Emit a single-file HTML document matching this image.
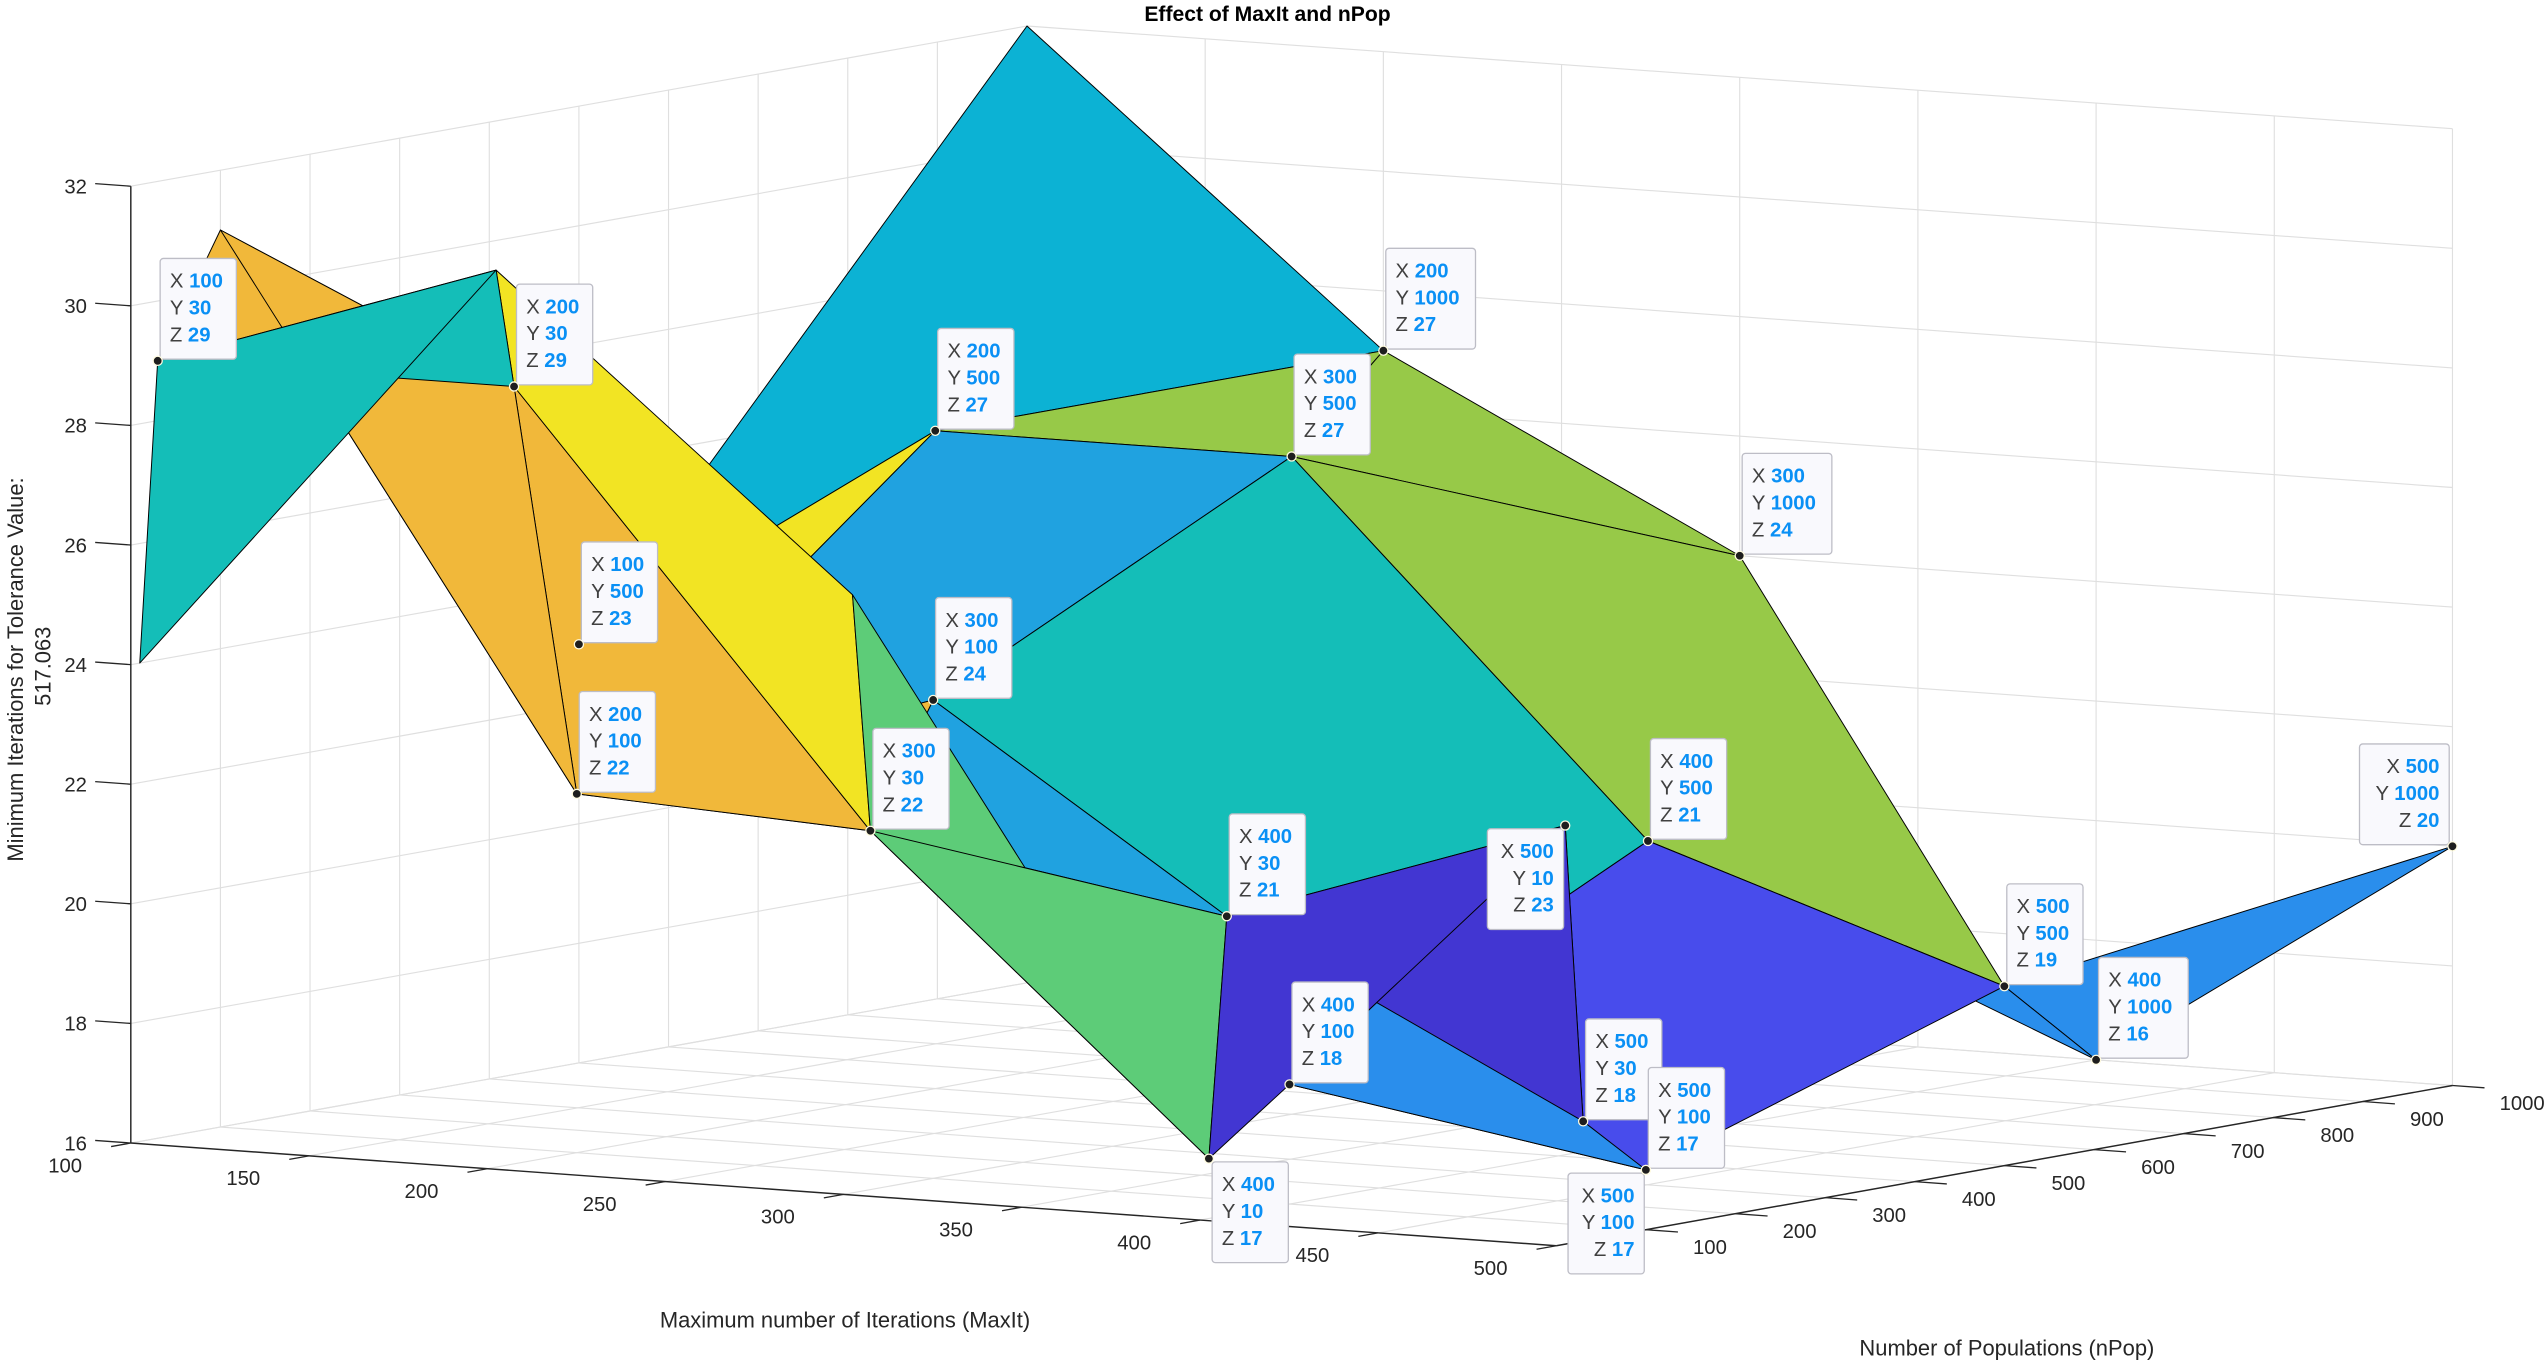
<!DOCTYPE html>
<html><head><meta charset="utf-8"><title>Effect of MaxIt and nPop</title>
<style>
html,body{margin:0;padding:0;background:#fff;}
svg{display:block;font-family:"Liberation Sans",Arial,sans-serif;}
</style></head>
<body>
<svg id="chart" width="2548" height="1362" viewBox="0 0 1568 838.15" xmlns="http://www.w3.org/2000/svg">
<rect x="0" y="0" width="1568" height="838.15" fill="#ffffff"/>
<g id="grid"></g>
<g id="axes"></g>
<g id="surface"></g>
<g id="tips"></g>
<text x="780" y="13" text-anchor="middle" font-size="13" font-weight="bold" fill="#000">Effect of MaxIt and nPop</text>
<text x="520" y="817" text-anchor="middle" font-size="13.5" fill="#262626">Maximum number of Iterations (MaxIt)</text>
<text x="1235" y="834" text-anchor="middle" font-size="13.5" fill="#262626">Number of Populations (nPop)</text>
<text transform="translate(14,412) rotate(-90)" text-anchor="middle" font-size="13.5" fill="#262626">Minimum Iterations for Tolerance Value:</text>
<text transform="translate(31,410) rotate(-90)" text-anchor="middle" font-size="13.5" fill="#262626">517.063</text>
</svg>
<script>
// ---- data ----
const xVals = [100, 200, 300, 400, 500];
const yVals = [10, 30, 100, 500, 1000];
const zRow100 = [24, 29, 31, 23, 32];
const zRow200 = [31, 29, 22, 27, 27];
const zRow300 = [26, 22, 24, 27, 24];
const zRow400 = [17, 21, 18, 21, 16];
const zRow500 = [23, 18, 17, 19, 20];
const xTicks = [100, 150, 200, 250, 300, 350, 400, 450, 500];
const yTicks = [100, 200, 300, 400, 500, 600, 700, 800, 900, 1000];
const zTicks = [16, 18, 20, 22, 24, 26, 28, 30, 32];
// faces (back to front), vertex = column letter (X index) + row digit (Y index)
const faceVerts = ["A4 A5 B5 B4","B4 B5 C4","B5 C4 C5","C4 C5 E4 D4","D5 E4 E5","D4 D5 E4",
  "A4 B3 B4","A3 A4 B3","B3 B4 C4 C3","C3 C4 D4 D3 D2","C2 C3 D2","B3 C2 C3","B2 B3 C2",
  "A2 A3 B2","A3 B2 B3","B1 B2 C2 C1","A2 B1 B2","A1 A2 B1","C1 C2 D1","C2 D1 D2",
  "D3 D4 E4 E3","D3 E1 E2 E3","D2 E1 E2","D1 D2 E1 D3"];
const faceColors = ["#0cb2d4","#97c948","#97c948","#97c948","#2a8eec","#2a8eec",
  "#f2e423","#f1b83a","#20a2e0","#14beb8","#20a2e0","#f1b83a","#f1b83a",
  "#f1b83a","#f1b83a","#f2e423","#14beb8","#14beb8","#5dcc78","#5dcc78",
  "#484cec","#2a8eec","#4236d2","#4236d2"];
// data tips
const tipX = [100,200,100,200,200,200,300,300,300,300,400,400,500,400,400,500,500,500,500,400,500];
const tipY = [30,30,500,100,500,1000,500,1000,100,30,30,500,10,100,10,30,100,100,500,1000,1000];
const tipZ = [29,29,23,22,27,27,27,24,24,22,21,21,23,18,17,18,17,17,19,16,20];
const tipPos = ["ur","ur","ur","ur","ur","ur","ur","ur","ur","ur","ur","ur","bl","ur","br","ur","ur","bl","ur","ur","ul"];

// ---- projection (display units) ----
function sx(X, Y) { return 2.193 * X + 0.5515 * Y - 138.8; }
function sy(X, Y, Z) { return 0.158 * X - 0.0986 * Y - 36.8 * Z + 1276.4; }
const NS = "http://www.w3.org/2000/svg";
function mk(tag, attrs, parent) {
  const e = document.createElementNS(NS, tag);
  for (const k in attrs) e.setAttribute(k, attrs[k]);
  parent.appendChild(e);
  return e;
}
function line3(p, q, stroke, w, parent) {
  return mk("line", {x1: sx(p[0], p[1]), y1: sy(p[0], p[1], p[2]), x2: sx(q[0], q[1]), y2: sy(q[0], q[1], q[2]), stroke: stroke, "stroke-width": w}, parent);
}
const xMin = 100, xMax = 500, yMin = 0, yMax = 1000, zMin = 16, zMax = 32;
const grid = document.getElementById("grid");
const GC = "#dfdfdf";
zTicks.forEach(z => { const l = line3([xMin, yMin, z], [xMin, yMax, z], GC, 0.7, grid);
  
   });
yTicks.forEach(y => { const l = line3([xMin, y, zMin], [xMin, y, zMax], GC, 0.7, grid);
  
   });
zTicks.forEach(z => { const l = line3([xMin, yMax, z], [xMax, yMax, z], GC, 0.7, grid);
  
   });
xTicks.forEach(x => { const l = line3([x, yMax, zMin], [x, yMax, zMax], GC, 0.7, grid);
  
   });
yTicks.forEach(y => { const l = line3([xMin, y, zMin], [xMax, y, zMin], GC, 0.7, grid);
  
   });
xTicks.forEach(x => { const l = line3([x, yMin, zMin], [x, yMax, zMin], GC, 0.7, grid);
  
   });

// ---- axes ----
const axes = document.getElementById("axes");
const AC = "#262626";
let a;
a = line3([xMin, yMin, zMin], [xMax, yMin, zMin], AC, 0.9, axes);


a = line3([xMax, yMin, zMin], [xMax, yMax, zMin], AC, 0.9, axes);


a = line3([xMin, yMin, zMin], [xMin, yMin, zMax], AC, 0.9, axes);


xTicks.forEach(x => {
  const t = line3([x, yMin, zMin], [x, yMin - 22, zMin], AC, 0.8, axes);
  
  
  const lb = mk("text", {x: sx(x, yMin) - 30, y: sy(x, yMin, zMin) + 18, "text-anchor": "end", "font-size": 12.5, fill: AC}, axes);
  
  
  lb.textContent = x;
});
yTicks.forEach(y => {
  const t = line3([xMax, y, zMin], [xMax + 9, y, zMin], AC, 0.8, axes);
  
  
  const lb = mk("text", {x: sx(xMax, y) + 29, y: sy(xMax, y, zMin) + 15, "text-anchor": "start", "font-size": 12.5, fill: AC}, axes);
  
  
  lb.textContent = y;
});
zTicks.forEach(z => {
  const t = line3([xMin, yMin, z], [xMin - 10, yMin, z], AC, 0.8, axes);
  
  
  const lb = mk("text", {x: sx(xMin, yMin) - 27, y: sy(xMin, yMin, z) + 4.5, "text-anchor": "end", "font-size": 12.5, fill: AC}, axes);
  
  
  lb.textContent = z;
});

// ---- surface ----
const zRows = [zRow100, zRow200, zRow300, zRow400, zRow500];
function vert(code) {
  const i = "ABCDE".indexOf(code[0]), j = parseInt(code[1], 10) - 1;
  const X = xVals[i], Y = yVals[j], Z = zRows[i][j];
  return [sx(X, Y), sy(X, Y, Z)];
}
const surf = document.getElementById("surface");
faceVerts.forEach((tv, k) => {
  const pts = tv.split(" ").map(vert).map(p => p[0].toFixed(2) + "," + p[1].toFixed(2)).join(" ");
  const poly = mk("polygon", {points: pts, fill: faceColors[k], stroke: "#000", "stroke-width": 0.6, "stroke-linejoin": "round"}, surf);
  
  
});

// ---- data tips ----
const tips = document.getElementById("tips");
tipX.forEach((X, k) => {
  const Y = tipY[k], Z = tipZ[k];
  const dx = sx(X, Y), dy = sy(X, Y, Z);
  const maxLen = Math.max(String(X).length, String(Y).length, String(Z).length);
  const w = 22 + 8.3 * maxLen, h = 62;
  const pos = tipPos[k];
  let bx, by;
  if (pos === "ur") { bx = dx + 1.5; by = dy - h - 1; }
  else if (pos === "br") { bx = dx + 2; by = dy + 2; }
  else if (pos === "bl") { bx = dx - w - 1; by = dy + 2; }
  else { bx = dx - w - 2; by = dy - h - 1; }
  const g = mk("g", {}, tips);
  
  
  const r = mk("rect", {x: bx, y: by, width: w, height: h, rx: 2, fill: "#f9f9fd", stroke: "#bdbdc6", "stroke-width": 0.8}, g);
  
  
  const right = (pos === "bl" || pos === "ul");
  const labels = ["X", "Y", "Z"], vals = [X, Y, Z];
  for (let i = 0; i < 3; i++) {
    const t = mk("text", {x: right ? bx + w - 6 : bx + 6, y: by + 18 + i * 16.5, "text-anchor": right ? "end" : "start", "font-size": 12.5}, g);
    
    
    const s1 = mk("tspan", {fill: "#404040"}, t);
    s1.textContent = labels[i] + " ";
    const s2 = mk("tspan", {fill: "#0a90f5", "font-weight": "bold"}, t);
    s2.textContent = vals[i];
  }
  const c = mk("circle", {cx: dx, cy: dy, r: 2.8, fill: "#1e1e1e", stroke: "#fffbe0", "stroke-width": 0.8}, g);
  
  
});
</script>
</body></html>
